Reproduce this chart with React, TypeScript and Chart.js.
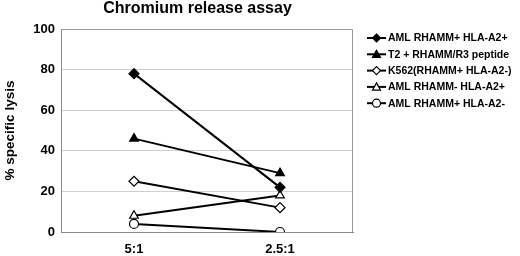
import React, { useEffect, useRef } from "react";
import { Chart, registerables } from "chart.js";

Chart.register(...registerables);

const categories = ["5:1", "2.5:1"];
const seriesNames = [
  "AML RHAMM+ HLA-A2+",
  "T2 + RHAMM/R3 peptide",
  "K562(RHAMM+ HLA-A2-)",
  "AML RHAMM- HLA-A2+",
  "AML RHAMM+ HLA-A2-",
];
const amlPosA2Pos = [78, 22];
const t2Peptide = [46, 29];
const k562 = [25, 12];
const amlNegA2Pos = [8, 18];
const amlPosA2Neg = [4, 0];
const yTicks = [0, 20, 40, 60, 80, 100];
const titleText = "Chromium release assay";
const yTitle = "% specific lysis";

const markerStyles = ["rectRot", "triangle", "rectRot", "triangle", "circle"];
const markerFills = ["#000", "#000", "#fff", "#fff", "#fff"];
const markerRadii = [5, 5, 5, 5, 4.5];

const FONT = "Arial, 'Liberation Sans', Helvetica, sans-serif";

export default function App() {
  const ref = useRef<HTMLCanvasElement | null>(null);
  useEffect(() => {
    const canvas = ref.current;
    if (!canvas) return;
    const values = [amlPosA2Pos, t2Peptide, k562, amlNegA2Pos, amlPosA2Neg];
    const datasets = values.map((v, i) => ({
      label: seriesNames[i],
      data: v,
      borderColor: "#000",
      borderWidth: 2,
      pointStyle: markerStyles[i] as any,
      pointRadius: markerRadii[i],
      pointBackgroundColor: markerFills[i],
      pointBorderColor: "#000",
      pointBorderWidth: 1.2,
      fill: false,
      tension: 0,
    }));

    function drawMarker(ctx: CanvasRenderingContext2D, style: string, r: number, x: number, y: number) {
      ctx.beginPath();
      if (style === "circle") {
        ctx.arc(x, y, r, 0, Math.PI * 2);
      } else if (style === "rectRot") {
        ctx.moveTo(x, y - r);
        ctx.lineTo(x + r, y);
        ctx.lineTo(x, y + r);
        ctx.lineTo(x - r, y);
        ctx.closePath();
      } else {
        ctx.moveTo(x, y - r);
        ctx.lineTo(x + r, y + r * 0.8);
        ctx.lineTo(x - r, y + r * 0.8);
        ctx.closePath();
      }
      ctx.fill();
      ctx.stroke();
    }

    const framePlugin = {
      id: "frame",
      afterDatasetsDraw(chart: any) {
        const { ctx, chartArea } = chart;
        ctx.save();
        ctx.strokeStyle = "#9a9a9a";
        ctx.lineWidth = 1;
        ctx.beginPath();
        ctx.moveTo(chartArea.left, chartArea.top + 0.5);
        ctx.lineTo(chartArea.right - 0.5, chartArea.top + 0.5);
        ctx.lineTo(chartArea.right - 0.5, chartArea.bottom);
        ctx.stroke();
        ctx.restore();
      },
      afterDraw(chart: any) {
        const { ctx } = chart;
        ctx.save();
        ctx.fillStyle = "#000";
        ctx.font = `bold 16px ${FONT}`;
        ctx.textAlign = "center";
        ctx.textBaseline = "middle";
        ctx.fillText(titleText, 197.5, 8.5);
        const lx0 = 367;
        const lx1 = 386;
        const rowY0 = 38;
        const rowGap = 16.3;
        ctx.font = `bold 10.5px ${FONT}`;
        ctx.textAlign = "left";
        chart.data.datasets.forEach((ds: any, i: number) => {
          const y = rowY0 + i * rowGap;
          ctx.strokeStyle = "#000";
          ctx.lineWidth = 2;
          ctx.beginPath();
          ctx.moveTo(lx0, y);
          ctx.lineTo(lx1, y);
          ctx.stroke();
          ctx.fillStyle = markerFills[i];
          ctx.strokeStyle = "#000";
          ctx.lineWidth = 1.2;
          drawMarker(ctx, markerStyles[i], 4, (lx0 + lx1) / 2, y);
          ctx.fillStyle = "#000";
          ctx.fillText(ds.label, lx1 + 2, y + 0.5);
        });
        ctx.restore();
      },
    };

    const chart = new Chart(canvas, {
      type: "line",
      data: { labels: categories, datasets },
      plugins: [framePlugin],
      options: {
        animation: false,
        responsive: false,
        maintainAspectRatio: false,
        layout: { padding: { top: 29, right: 167, left: 0, bottom: 0 } },
        plugins: {
          legend: { display: false },
          title: { display: false },
          tooltip: { enabled: false },
        },
        scales: {
          x: {
            type: "category",
            offset: true,
            grid: { display: false, drawTicks: false },
            border: { color: "#8a8a8a", width: 1 },
            ticks: {
              color: "#000",
              font: { family: FONT, size: 13, weight: "bold" },
              padding: 10,
              maxRotation: 0,
            },
            afterFit(scale: any) {
              scale.height = 24;
            },
          },
          y: {
            min: 0,
            max: 100,
            afterBuildTicks(scale: any) {
              scale.ticks = yTicks.map((v) => ({ value: v }));
            },
            grid: { color: "#cfcfcf", drawTicks: false, lineWidth: 1 },
            border: { color: "#8a8a8a", width: 1 },
            ticks: {
              color: "#000",
              font: { family: FONT, size: 13, weight: "bold" },
              padding: 6,
            },
            title: {
              display: true,
              text: yTitle,
              color: "#000",
              font: { family: FONT, size: 13.5, weight: "bold" },
              padding: { top: 2, bottom: 0 },
            },
            afterFit(scale: any) {
              scale.width = 61;
            },
          },
        },
      } as any,
    });
    return () => chart.destroy();
  }, []);

  return (
    <div style={{ position: "absolute", left: 0, top: 0, width: 520, height: 256, background: "#fff" }}>
      <canvas ref={ref} width={520} height={256} style={{ width: 520, height: 256 }} />
    </div>
  );
}
